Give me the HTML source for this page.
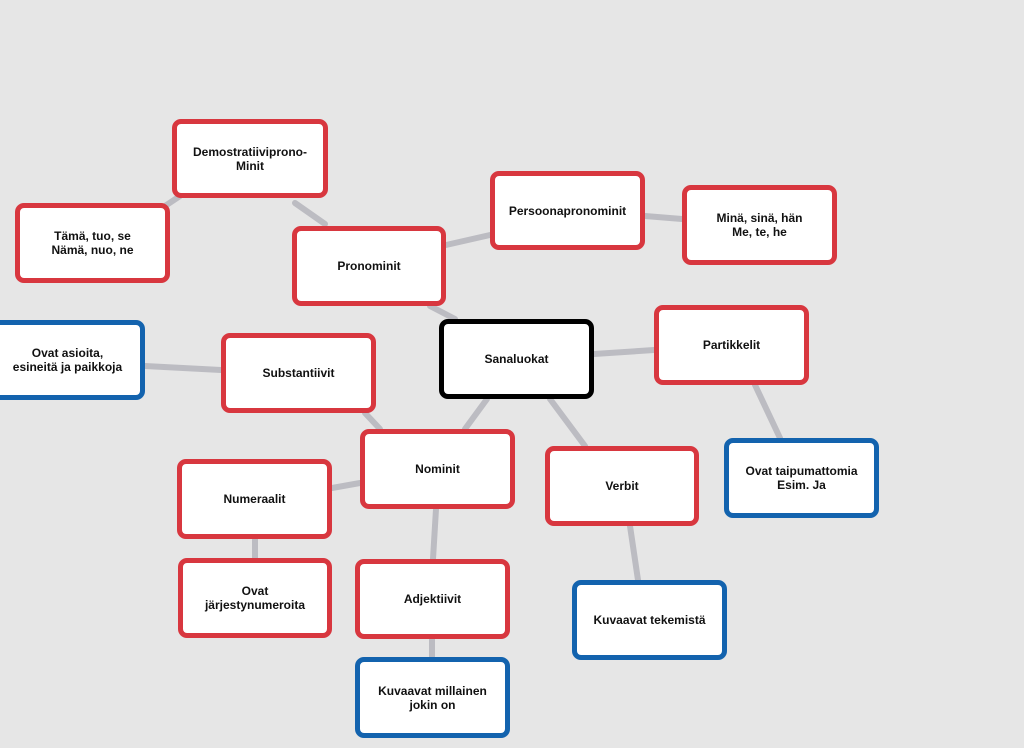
<!DOCTYPE html>
<html><head><meta charset="utf-8"><style>
body{margin:0;width:1024px;height:748px;background:#e6e6e6;position:relative;overflow:hidden;font-family:"Liberation Sans",sans-serif}
svg{position:absolute;left:0;top:0}
.b{position:absolute;box-sizing:border-box;background:#fff;border:5px solid #d8373f;border-radius:9px;display:flex;align-items:center;justify-content:center;text-align:center;font-weight:bold;font-size:12px;line-height:14px;color:#111}
.u{border-color:#1363ae}.k{border-color:#000}
</style></head><body>
<svg width="1024" height="748"><g stroke="#bcbcc2" stroke-width="6" stroke-linecap="round">
<line x1="295" y1="203" x2="325" y2="224"/><line x1="165" y1="206" x2="180" y2="196"/>
<line x1="446" y1="245" x2="490" y2="235"/><line x1="645" y1="216" x2="682" y2="219"/>
<line x1="430" y1="306" x2="455" y2="319"/><line x1="594" y1="354" x2="654" y2="350"/>
<line x1="755" y1="385" x2="780" y2="438"/><line x1="487" y1="399" x2="465" y2="429"/>
<line x1="550" y1="399" x2="585" y2="446"/><line x1="145" y1="366" x2="221" y2="370"/>
<line x1="365" y1="413" x2="380" y2="429"/><line x1="332" y1="488" x2="360" y2="483"/>
<line x1="255" y1="539" x2="255" y2="558"/><line x1="436" y1="509" x2="433" y2="559"/>
<line x1="630" y1="526" x2="638" y2="580"/><line x1="432" y1="639" x2="432" y2="657"/>
</g></svg>
<div class="b" style="left:172px;top:119px;width:156px;height:79px">Demostratiiviprono-<br>Minit</div>
<div class="b" style="left:15px;top:203px;width:155px;height:80px">Tämä, tuo, se<br>Nämä, nuo, ne</div>
<div class="b" style="left:490px;top:171px;width:155px;height:79px">Persoonapronominit</div>
<div class="b" style="left:682px;top:185px;width:155px;height:80px">Minä, sinä, hän<br>Me, te, he</div>
<div class="b" style="left:292px;top:226px;width:154px;height:80px">Pronominit</div>
<div class="b k" style="left:439px;top:319px;width:155px;height:80px">Sanaluokat</div>
<div class="b" style="left:654px;top:305px;width:155px;height:80px">Partikkelit</div>
<div class="b u" style="left:-10px;top:320px;width:155px;height:80px">Ovat asioita,<br>esineitä ja paikkoja</div>
<div class="b" style="left:221px;top:333px;width:155px;height:80px">Substantiivit</div>
<div class="b" style="left:360px;top:429px;width:155px;height:80px">Nominit</div>
<div class="b" style="left:177px;top:459px;width:155px;height:80px">Numeraalit</div>
<div class="b" style="left:545px;top:446px;width:154px;height:80px">Verbit</div>
<div class="b u" style="left:724px;top:438px;width:155px;height:80px">Ovat taipumattomia<br>Esim. Ja</div>
<div class="b" style="left:178px;top:558px;width:154px;height:80px">Ovat<br>järjestynumeroita</div>
<div class="b" style="left:355px;top:559px;width:155px;height:80px">Adjektiivit</div>
<div class="b u" style="left:572px;top:580px;width:155px;height:80px">Kuvaavat tekemistä</div>
<div class="b u" style="left:355px;top:657px;width:155px;height:81px">Kuvaavat millainen<br>jokin on</div>
</body></html>
